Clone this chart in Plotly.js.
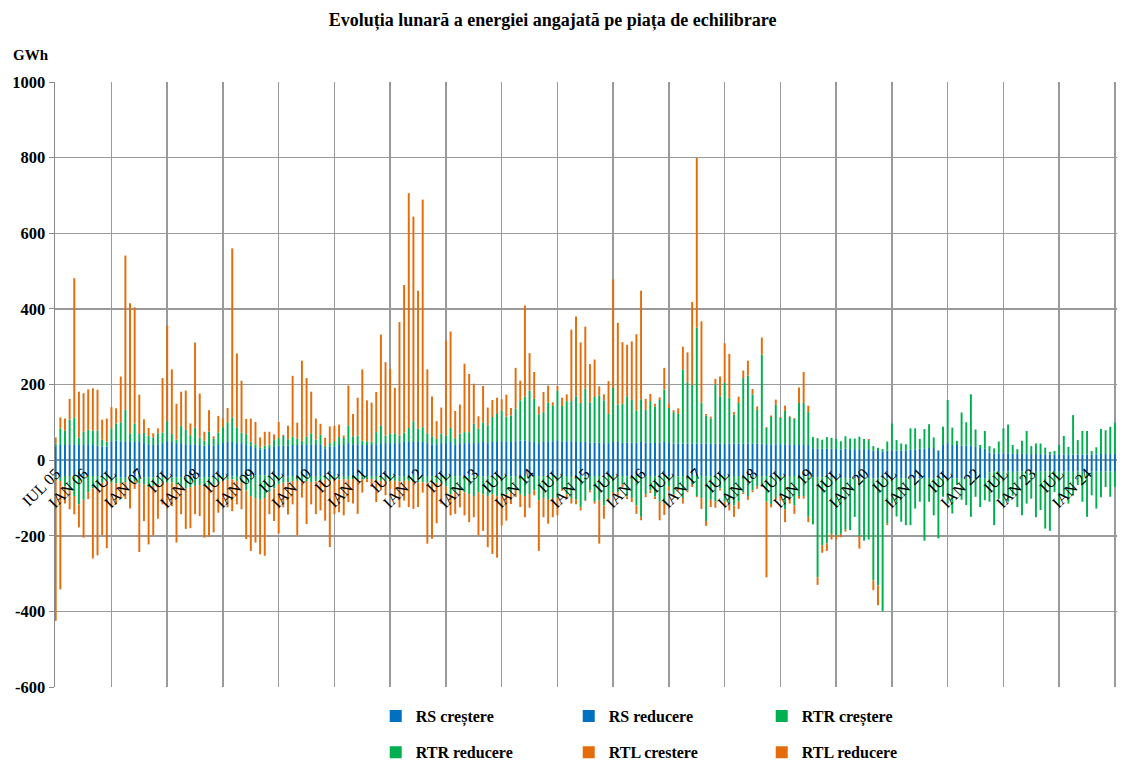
<!DOCTYPE html>
<html>
<head>
<meta charset="utf-8">
<script src="https://cdn.plot.ly/plotly-3.0.1.min.js"></script>
<style>html,body{margin:0;padding:0;background:#fff;}#chart{width:1121px;height:762px;}</style>
</head>
<body>
<div id="chart"></div>
<script>
// Monthly values, Jul 2005 ... Jul 2024 (GWh), one line = Jul..Jun
const rsUp = [
35,40,40,42,42,40,40,42,40,38,36,36,
50,52,50,50,48,48,48,45,42,40,42,45,
50,48,45,45,42,42,42,40,38,40,38,40,
45,48,48,45,45,42,38,32,28,30,32,35,
38,38,38,40,40,40,40,42,40,42,30,35,
36,40,40,45,42,42,40,40,40,42,45,45,
45,45,45,48,48,48,48,48,45,42,42,45,
45,48,42,45,45,45,45,45,48,45,48,48,
50,50,48,50,52,52,50,48,45,48,50,50,
52,50,50,50,48,48,48,46,46,46,45,45,
48,48,46,46,46,46,48,46,46,45,46,48,
45,44,44,44,44,44,44,44,44,44,44,44,
44,44,44,44,44,44,44,44,44,42,42,42,
42,42,42,40,40,40,40,30,30,30,30,30,
30,28,30,29,29,29,29,29,25,24,22,25,
25,25,25,25,28,28,30,30,32,32,24,40,
45,40,40,38,38,38,35,32,30,20,18,18,
18,18,18,16,16,16,16,16,16,15,15,15,
15,15,15,15,15,15,15,15,15,16,16,16,
16];
const rsDown = [
-45,-45,-42,-42,-42,-42,-42,-42,-42,-42,-42,-42,
-45,-45,-46,-45,-45,-44,-45,-45,-46,-45,-45,-45,
-45,-46,-45,-45,-44,-45,-45,-46,-45,-45,-44,-45,
-42,-42,-43,-42,-42,-42,-42,-40,-40,-40,-40,-40,
-42,-42,-43,-42,-42,-42,-43,-42,-42,-42,-42,-42,
-42,-43,-42,-42,-42,-42,-43,-42,-42,-42,-42,-42,
-42,-42,-43,-42,-42,-42,-42,-43,-42,-42,-42,-42,
-42,-42,-42,-43,-42,-42,-42,-42,-43,-42,-42,-42,
-42,-42,-43,-42,-42,-42,-42,-42,-43,-42,-42,-42,
-42,-43,-42,-42,-42,-42,-43,-42,-42,-42,-42,-42,
-42,-42,-42,-43,-42,-42,-42,-42,-42,-43,-42,-42,
-42,-42,-43,-42,-42,-42,-42,-42,-43,-42,-42,-42,
-42,-42,-42,-42,-43,-42,-42,-42,-42,-42,-43,-42,
-42,-42,-42,-42,-42,-42,-42,-45,-45,-45,-45,-45,
-48,-48,-47,-48,-48,-48,-47,-48,-48,-48,-48,-48,
-48,-47,-48,-48,-48,-48,-48,-47,-48,-48,-48,-48,
-48,-48,-48,-47,-48,-48,-48,-48,-48,-32,-30,-30,
-30,-30,-31,-30,-30,-30,-30,-31,-30,-30,-30,-30,
-30,-30,-30,-31,-30,-30,-30,-30,-30,-31,-30,-30,
-30];
const rtrUp = [
9,44,38,65,71,20,35,38,38,40,18,13,
34,45,50,83,23,49,21,27,22,20,29,28,
53,21,9,46,38,24,44,20,13,35,19,33,
42,52,65,42,28,27,11,10,6,8,9,18,
20,26,17,22,17,11,22,29,14,25,7,10,
14,21,19,47,21,23,12,10,9,32,47,20,
25,26,20,25,37,55,35,39,26,21,14,25,
20,37,16,25,29,29,51,38,52,47,66,74,
81,65,70,86,106,116,134,114,76,79,102,95,
132,93,106,106,121,103,141,107,121,125,113,77,
143,99,103,123,113,85,113,87,110,97,113,139,
93,83,78,196,162,155,307,108,74,66,156,125,
160,121,76,107,173,180,130,89,235,43,72,105,
70,88,72,69,111,111,87,31,28,24,31,29,
26,22,33,28,28,33,27,24,12,9,7,24,
72,28,19,17,56,56,26,52,63,28,2,48,
114,46,11,88,62,136,46,8,47,17,13,31,
66,76,22,13,35,61,21,28,28,18,7,9,
25,49,20,104,38,62,62,9,19,66,63,72,
83];
const rtrDown = [
-5,-10,-28,-38,-53,-75,-63,-43,-33,-33,-18,-13,
-15,-17,-15,-13,-15,-13,-17,-20,-25,-23,-18,-15,
-15,-13,-20,-25,-30,-27,-23,-20,-25,-23,-21,-17,
-13,-10,-8,-13,-18,-38,-53,-60,-65,-60,-45,-35,
-23,-18,-16,-13,-13,-13,-13,-16,-14,-13,-10,-10,
-10,-8,-8,-10,-8,-8,-8,-8,-8,-10,-13,-13,
-13,-13,-13,-13,-13,-16,-16,-16,-18,-20,-18,-18,
-28,-48,-43,-38,-43,-48,-53,-43,-48,-53,-48,-53,
-53,-48,-43,-38,-48,-53,-48,-38,-63,-58,-63,-58,
-58,-33,-48,-58,-63,-83,-63,-38,-68,-65,-78,-58,
-43,-43,-23,-53,-58,-78,-108,-48,-38,-53,-68,-73,
-28,-48,-33,-58,-38,-23,-53,-58,-118,-63,-68,-33,
-68,-73,-78,-68,-43,-53,-38,-28,-26,-68,-73,-58,
-53,-88,-58,-78,-53,-53,-108,-125,-265,-180,-175,-150,
-152,-147,-137,-137,-102,-153,-166,-162,-270,-283,-351,-120,
-65,-102,-115,-124,-124,-80,-62,-166,-62,-98,-159,-49,
-67,-93,-18,-58,-71,-102,-49,-76,-58,-78,-142,-72,
-89,-80,-63,-94,-116,-85,-72,-120,-102,-151,-157,-54,
-89,-67,-85,-63,-36,-80,-120,-63,-98,-67,-41,-67,
-41];
const rtlUp = [
16,29,32,55,368,121,102,107,112,108,53,61,
56,40,121,408,344,307,104,36,21,11,13,144,
253,171,95,90,104,31,225,116,24,57,6,44,
23,38,447,195,137,40,61,59,26,37,34,15,
43,3,36,161,42,212,155,110,56,29,22,44,
41,33,6,105,59,100,188,108,103,106,240,194,
171,120,300,390,621,541,365,602,169,105,47,69,
251,255,72,77,181,154,106,33,96,47,45,43,
30,58,20,108,52,241,99,71,21,53,45,8,
12,22,18,189,211,160,164,101,99,24,16,87,
287,216,163,136,155,202,287,29,19,7,7,57,
11,5,15,60,79,219,448,215,4,5,15,52,
105,116,7,17,20,39,14,9,45,2,4,13,
2,14,2,2,41,82,17,0,0,0,0,0,
0,0,0,0,0,0,0,3,0,0,0,0,
0,0,0,0,0,0,0,0,0,0,0,0,
0,0,0,0,0,0,0,0,0,0,0,0,
0,0,0,0,0,0,0,0,0,0,0,0,
0,0,0,0,0,0,0,0,0,0,0,0,
0];
const rtlDown = [
-375,-287,-45,-50,-48,-61,-100,-18,-185,-177,-138,-178,
-65,-55,-39,-45,-68,-19,-181,-96,-152,-131,-92,-57,
-65,-63,-153,-73,-108,-108,-75,-82,-135,-134,-126,-77,
-62,-73,-84,-62,-70,-129,-145,-118,-144,-153,-58,-86,
-129,-65,-85,-62,-143,-44,-113,-59,-87,-78,-108,-178,
-90,-87,-96,-59,-65,-92,-35,-8,-21,-59,-25,-38,
-21,-43,-69,-52,-69,-71,-66,-27,-161,-146,-107,-55,
-23,-56,-57,-44,-61,-74,-56,-114,-96,-135,-158,-163,
-78,-70,-30,-18,-34,-56,-36,-13,-134,-51,-63,-51,
-46,-5,-12,-15,-12,-8,-2,-5,-5,-114,-35,-7,
-4,-8,-6,-7,-11,-22,-9,-8,-7,-7,-49,-30,
-10,-8,-5,-15,-5,-6,-3,-29,-13,-19,-16,-5,
-10,-18,-30,-19,-4,-10,-5,-6,-3,-200,-9,-5,
-12,-34,-15,-22,-7,-7,-14,0,-20,-20,-20,-15,
-10,-9,-5,0,0,-33,0,0,-26,-53,0,-4,
0,0,0,0,0,0,0,0,0,0,0,0,
0,0,0,0,0,0,0,0,0,0,0,0,
0,0,0,0,0,0,0,0,0,0,0,0,
0,0,0,0,0,0,0,0,0,0,0,0,
0];
const tickLabels = ['IUL 05','IAN 06','IUL','IAN 07','IUL','IAN 08','IUL','IAN 09','IUL','IAN 10',
'IUL','IAN 11','IUL','IAN 12','IUL','IAN 13','IUL','IAN 14','IUL','IAN 15','IUL','IAN 16','IUL',
'IAN 17','IUL','IAN 18','IUL','IAN 19','IUL','IAN 20','IUL','IAN 21','IUL','IAN 22','IUL','IAN 23',
'IUL','IAN 24','IUL'];
const yTickVals = [-600, -400, -200, 0, 200, 400, 600, 800, 1000];
const yTickText = ['-600', '-400', '-200', '0', '200', '400', '600', '800', '1000'];
const seriesNames = ['RS creștere','RS reducere','RTR creștere','RTR reducere','RTL crestere','RTL reducere'];

const FONT = 'Liberation Serif, Times New Roman, serif';
const C_RS = '#0070C0', C_RTR = '#00B050', C_RTL = '#E46C0A';
const x = rsUp.map((_, i) => i);
const tickVals = tickLabels.map((_, i) => i * 6);
const gridVals = [];
for (let v = 0; v <= 228; v += 12) gridVals.push(v);

function bar(name, vals, color, legend) {
  return {type: 'bar', name: name, x: x, y: vals, marker: {color: color, line: {width: 0}},
    legend: legend, hovertemplate: name + ': %{y}<extra></extra>'};
}
const data = [
  bar(seriesNames[0], rsUp, C_RS, 'legend'),
  bar(seriesNames[1], rsDown, C_RS, 'legend'),
  bar(seriesNames[2], rtrUp, C_RTR, 'legend'),
  bar(seriesNames[3], rtrDown, C_RTR, 'legend2'),
  bar(seriesNames[4], rtlUp, C_RTL, 'legend2'),
  bar(seriesNames[5], rtlDown, C_RTL, 'legend2'),
  {type: 'scatter', mode: 'markers', x: [0], y: [0], xaxis: 'x2', marker: {opacity: 0},
   showlegend: false, hoverinfo: 'skip'}
];
const xr = [-0.15, 228.45];
const legendCommon = {orientation: 'h', xref: 'paper', yref: 'paper', xanchor: 'left', yanchor: 'middle',
  entrywidth: 148, entrywidthmode: 'pixels', font: {family: FONT, size: 16, color: '#000', weight: 'bold'},
  bgcolor: 'rgba(0,0,0,0)', itemclick: false, itemdoubleclick: false, traceorder: 'normal'};
const layout = {
  width: 1121, height: 762,
  margin: {l: 55, r: 4, t: 82, b: 75, autoexpand: false},
  paper_bgcolor: '#fff', plot_bgcolor: '#fff',
  barmode: 'relative', bargap: 0.58,
  font: {family: FONT},
  title: {text: '<b>Evoluția lunară a energiei angajată pe piața de echilibrare</b>',
    font: {family: FONT, size: 18, color: '#000'}, xref: 'container', x: 0.493, y: 0.974,
    xanchor: 'center', yanchor: 'middle'},
  xaxis: {range: xr, anchor: 'free', position: 0.375, tickmode: 'array', tickvals: tickVals,
    ticktext: tickLabels, tickangle: -45, showgrid: false, zeroline: false, showline: false, ticks: '',
    tickfont: {family: FONT, size: 16, color: '#000'}, fixedrange: true},
  xaxis2: {range: xr, overlaying: 'x', anchor: 'y', side: 'bottom', tickmode: 'array', tickvals: gridVals,
    showticklabels: false, showgrid: true, gridcolor: '#9a9a9a', gridwidth: 1.5, zeroline: false,
    showline: false, ticks: ''},
  yaxis: {range: [-600, 1000], tickmode: 'array', tickvals: yTickVals, ticktext: yTickText, showgrid: true,
    gridcolor: '#9a9a9a', gridwidth: 1.5, zeroline: true, zerolinecolor: '#9a9a9a', zerolinewidth: 1.5,
    showline: true, linecolor: '#8a8a8a', linewidth: 1.5, ticks: 'outside', ticklen: 5, tickcolor: '#8a8a8a',
    tickfont: {family: FONT, size: 16.5, color: '#000', weight: 'bold'}, fixedrange: true},
  legend: Object.assign({x: 0.302, y: -0.048}, legendCommon),
  legend2: Object.assign({x: 0.302, y: -0.108}, legendCommon),
  annotations: [{text: '<b>GWh</b>', xref: 'paper', yref: 'paper', x: -0.041, y: 1.0446,
    xanchor: 'left', yanchor: 'middle', showarrow: false, font: {family: FONT, size: 15, color: '#000'}}],
  showlegend: true
};
Plotly.newPlot('chart', data, layout, {displayModeBar: false, staticPlot: true});
</script>
</body>
</html>
